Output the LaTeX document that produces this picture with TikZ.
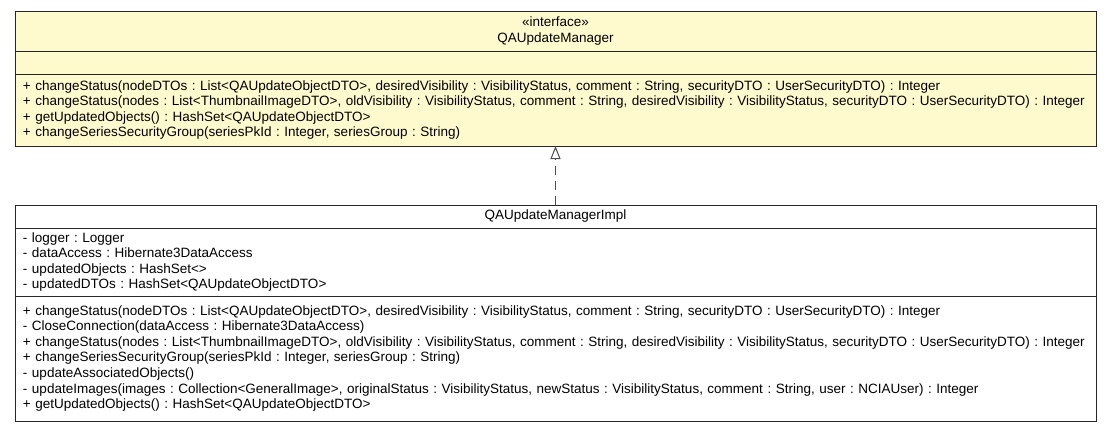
\documentclass[tikz,border=0pt]{standalone}
\usepackage{fontspec}
\setmainfont{Liberation Sans}
\usetikzlibrary{positioning,arrows.meta}
\definecolor{ifacefill}{HTML}{FFFACD}
\frenchspacing

\begin{document}
\begin{tikzpicture}[x=1pt, y=-1pt,
  compart/.style={draw=black!85, line width=1pt, inner xsep=8pt, inner ysep=0pt,
    outer sep=0pt, text width=1065pt, minimum height=#1,
    font=\fontsize{13.5}{15.6}\selectfont},
  realize/.style={draw=black!70, line width=1.4pt, dash pattern=on 9pt off 6pt,
    -{Triangle[open, width=10pt, length=13pt, line width=1pt]}}]
\useasboundingbox (0,0) rectangle (1112,432);

% interface
\node[compart=40pt, align=center, fill=ifacefill, anchor=north] (ifname) at (555.5,11)
  {«interface»\\QAUpdateManager};
\node[compart=23pt, fill=ifacefill, below=0pt of ifname] (ifattr) {};
\node[compart=72pt, align=left, fill=ifacefill, below=0pt of ifattr] (ifops)
  {+ changeStatus(nodeDTOs : List<QAUpdateObjectDTO>, desiredVisibility : VisibilityStatus, comment : String, securityDTO : UserSecurityDTO) : Integer\\
   + changeStatus(nodes : List<ThumbnailImageDTO>, oldVisibility : VisibilityStatus, comment : String, desiredVisibility : VisibilityStatus, securityDTO : UserSecurityDTO) : Integer\\
   + getUpdatedObjects() : HashSet<QAUpdateObjectDTO>\\
   + changeSeriesSecurityGroup(seriesPkId : Integer, seriesGroup : String)};

% implementation
\node[compart=23pt, align=center, anchor=north] (implname) at (555.5,205) {QAUpdateManagerImpl};
\node[compart=68pt, align=left, below=0pt of implname] (implattr)
  {- logger : Logger\\
   - dataAccess : Hibernate3DataAccess\\
   - updatedObjects : HashSet<>\\
   - updatedDTOs : HashSet<QAUpdateObjectDTO>};
\node[compart=125pt, align=left, below=0pt of implattr] (implops)
  {+ changeStatus(nodeDTOs : List<QAUpdateObjectDTO>, desiredVisibility : VisibilityStatus, comment : String, securityDTO : UserSecurityDTO) : Integer\\
   - CloseConnection(dataAccess : Hibernate3DataAccess)\\
   + changeStatus(nodes : List<ThumbnailImageDTO>, oldVisibility : VisibilityStatus, comment : String, desiredVisibility : VisibilityStatus, securityDTO : UserSecurityDTO) : Integer\\
   + changeSeriesSecurityGroup(seriesPkId : Integer, seriesGroup : String)\\
   - updateAssociatedObjects()\\
   - updateImages(images : Collection<GeneralImage>, originalStatus : VisibilityStatus, newStatus : VisibilityStatus, comment : String, user : NCIAUser) : Integer\\
   + getUpdatedObjects() : HashSet<QAUpdateObjectDTO>};

\draw[realize] (implname) -- (ifops);
\end{tikzpicture}
\end{document}
